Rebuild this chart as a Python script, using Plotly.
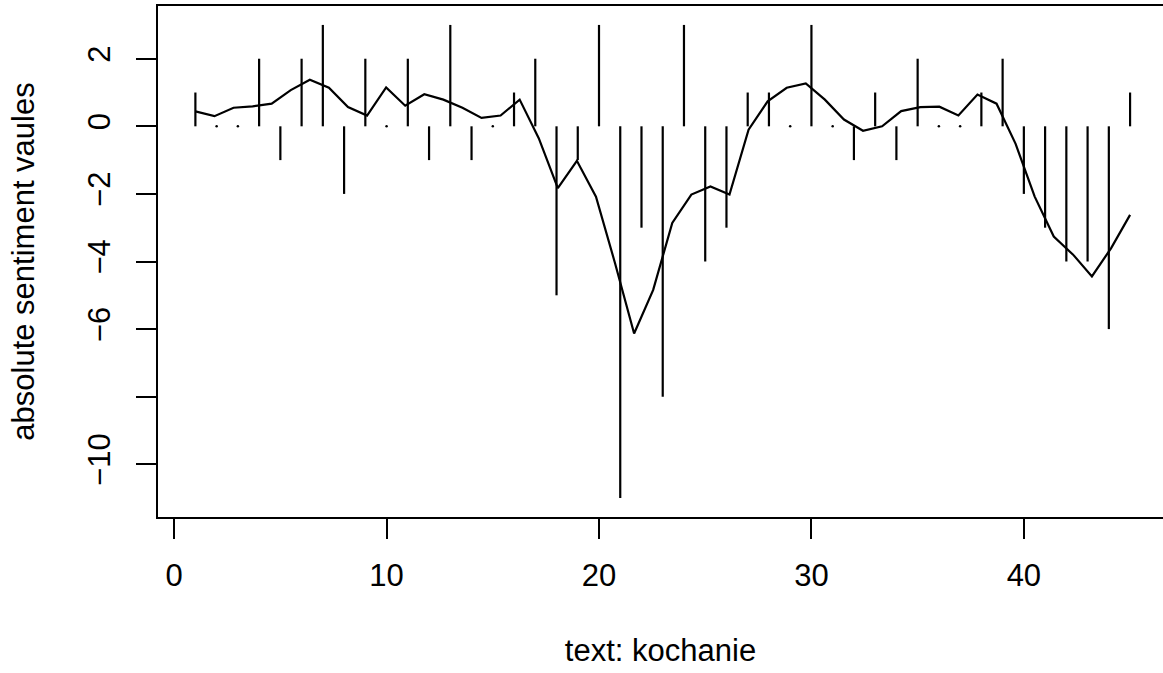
import numpy as np
import plotly.graph_objects as go

# sentence-level sentiment scores, one per sentence of the text
sentence_idx = list(range(1, 46))
sentiment = [1, 0, 0, 2, -1, 2, 3, -2, 2, 0, 2, -1, 3, -1, 0, 1, 2, -5, -1, 3,
             -11, -3, -8, 3, -4, -3, 1, 1, 0, 3, 0, -1, 1, -1, 2, 0, 0, 1, 2, -2,
             -3, -4, -4, -6, 1]

# smoothed sentiment trajectory (50 resampled values over the same span)
smoothed = [0.44, 0.30, 0.55, 0.59, 0.67, 1.07, 1.38, 1.14, 0.57, 0.32,
            1.15, 0.61, 0.95, 0.79, 0.55, 0.25, 0.32, 0.79, -0.35, -1.83,
            -1.02, -2.08, -4.05, -6.13, -4.84, -2.86, -2.02, -1.78, -2.02, -0.10,
            0.74, 1.14, 1.27, 0.79, 0.20, -0.13, 0.00, 0.45, 0.57, 0.58,
            0.32, 0.94, 0.67, -0.52, -2.08, -3.26, -3.79, -4.44, -3.61, -2.62]

x_ticks = [0, 10, 20, 30, 40]
y_ticks = [-10, -8, -6, -4, -2, 0, 2]
y_tick_labels = ["\u221210", "", "\u22126", "\u22124", "\u22122", "0", "2"]

FONT = "Liberation Sans, Arial, Helvetica, sans-serif"

# vertical "h"-style spikes from 0 to each score
hx, hy = [], []
for xi, v in zip(sentence_idx, sentiment):
    hx += [xi, xi, None]
    hy += [0, v, None]

zero_x = [xi for xi, v in zip(sentence_idx, sentiment) if v == 0]
zero_y = [0] * len(zero_x)

smooth_x = np.linspace(sentence_idx[0], sentence_idx[-1], len(smoothed))

fig = go.Figure()
fig.add_trace(go.Scatter(x=hx, y=hy, mode="lines",
                         line=dict(color="black", width=2.2), hoverinfo="skip"))
fig.add_trace(go.Scatter(x=zero_x, y=zero_y, mode="markers",
                         marker=dict(color="black", size=2.5), hoverinfo="skip"))
fig.add_trace(go.Scatter(x=smooth_x, y=smoothed, mode="lines",
                         line=dict(color="black", width=2.2)))

axis_common = dict(showgrid=False, zeroline=False, showline=True,
                   linecolor="black", linewidth=2.2, ticks="outside",
                   ticklen=20, tickwidth=2.2, tickcolor="black",
                   tickfont=dict(family=FONT, size=31, color="black"))

fig.update_layout(
    width=1163, height=673,
    margin=dict(l=158, r=0, t=6, b=156),
    paper_bgcolor="white", plot_bgcolor="white",
    showlegend=False,
    font=dict(family=FONT, size=31, color="black"),
    xaxis=dict(range=[-0.76, 46.55], tickvals=x_ticks, mirror=True,
               ticklabelstandoff=10,
               title=dict(text="text: kochanie", standoff=47,
                          font=dict(family=FONT, size=31, color="black")),
               **axis_common),
    yaxis=dict(range=[-11.56, 3.56], tickvals=y_ticks, ticktext=y_tick_labels,
               tickangle=-90, ticklabelstandoff=14,
               title=dict(text="absolute sentiment vaules", standoff=38,
                          font=dict(family=FONT, size=31, color="black")),
               **axis_common),
)

fig.write_html("out.html")
